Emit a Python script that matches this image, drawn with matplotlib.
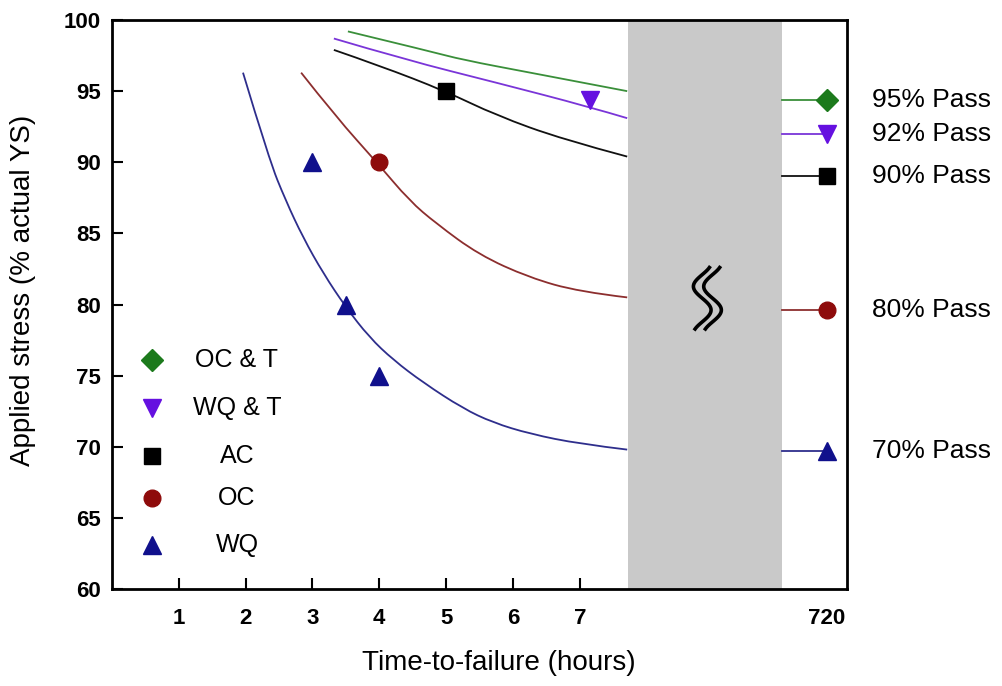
import numpy as np
import matplotlib.pyplot as plt
from matplotlib.path import Path
from matplotlib.patches import PathPatch

plt.rcParams['font.family'] = ['Liberation Sans', 'DejaVu Sans']

# heat treatments, legend order
series = ["OC & T", "WQ & T", "AC", "OC", "WQ"]
markers = ["D", "v", "s", "o", "^"]
marker_sizes = [11, 13, 11, 12, 13]
line_colors = ["#3a8f3a", "#7a35d8", "#111111", "#8c2e2e", "#2e2e8c"]
marker_colors = ["#1c7a1c", "#6510e0", "#000000", "#8e0b0b", "#10108c"]

# failed specimens: time-to-failure (h) vs applied stress (% actual YS)
fail_hours = [[], [7.15], [5.0], [4.0], [3.0, 3.5, 4.0]]
fail_stress = [[], [94.4], [95.0], [90.0], [90.0, 80.0, 75.0]]

# stress levels that ran out the full 720 h
pass_stress = [94.4, 92.0, 89.0, 79.6, 69.7]
pass_labels = ["95% Pass", "92% Pass", "90% Pass", "80% Pass", "70% Pass"]

# trend curves through the short-time results
curve_hours = [
    [3.53, 4.76, 5.25, 6.26, 7.71],
    [3.32, 4.40, 5.75, 7.14, 7.71],
    [3.32, 4.00, 4.99, 5.75, 6.75, 7.71],
    [2.83, 3.35, 3.98, 4.45, 4.85, 5.49, 6.24, 6.99, 7.71],
    [1.96, 2.35, 2.60, 2.86, 3.16, 3.50, 3.85, 4.21, 4.66, 5.25, 5.70, 6.26, 7.00, 7.71],
]
curve_stress = [
    [99.2, 97.8, 97.2, 96.3, 95.0],
    [98.7, 97.2, 95.6, 93.9, 93.1],
    [97.9, 96.8, 95.0, 93.3, 91.6, 90.4],
    [96.3, 93.2, 89.9, 87.3, 85.7, 83.5, 81.9, 80.9, 80.5],
    [96.3, 90.2, 87.3, 84.7, 82.2, 79.8, 77.7, 76.1, 74.5, 72.7, 71.7, 70.9, 70.2, 69.8],
]

x_ticks = [1, 2, 3, 4, 5, 6, 7]
X_720 = 10.7              # axis position used for the 720 h run-outs
BREAK_LO, BREAK_HI = 7.72, 10.03


def smooth_curve(ax, xs, ys, **kw):
    # quadratic bezier through the midpoints, so the trend line has no corners
    pts = list(zip(xs, ys))
    verts, codes = [pts[0]], [Path.MOVETO]
    for k in range(1, len(pts) - 1):
        nxt = pts[k + 1] if k == len(pts) - 2 else (
            (pts[k][0] + pts[k + 1][0]) / 2, (pts[k][1] + pts[k + 1][1]) / 2)
        verts += [pts[k], nxt]
        codes += [Path.CURVE3, Path.CURVE3]
    if len(pts) == 2:
        verts.append(pts[1])
        codes.append(Path.LINETO)
    ax.add_patch(PathPatch(Path(verts, codes), fill=False, **kw))


fig = plt.figure(figsize=(10.03, 6.86), dpi=100)
ax = fig.add_axes([0.1117, 0.1414, 0.7328, 0.8294])

ax.axvspan(BREAK_LO, BREAK_HI, color="#c9c9c9", lw=0, zorder=1)

for i in range(len(series)):
    smooth_curve(ax, curve_hours[i], curve_stress[i], edgecolor=line_colors[i], lw=1.3, zorder=2)
    ax.plot([BREAK_HI, X_720], [pass_stress[i], pass_stress[i]],
            color=line_colors[i], lw=1.3, zorder=2)
    ax.plot(fail_hours[i] + [X_720], fail_stress[i] + [pass_stress[i]],
            ls="none", marker=markers[i], ms=marker_sizes[i],
            color=marker_colors[i], mec=marker_colors[i], zorder=3)
    ax.text(1.034, pass_stress[i], pass_labels[i], transform=ax.get_yaxis_transform(),
            ha="left", va="center", fontsize=19, clip_on=False)

# axis break squiggle
t = np.linspace(-0.15, 1.15, 80)
for dx in (-0.007, 0.007):
    ax.plot(0.81 + dx - 0.012 * np.sin(2 * np.pi * t), 0.511 + 0.054 * (1 - 2 * t) / 1.3,
            transform=ax.transAxes, color="black", lw=2.6, zorder=4)

# legend drawn by hand: marker column plus centred names
leg_y = [0.402, 0.318, 0.234, 0.160, 0.077]
for i in range(len(series)):
    ax.plot([0.054], [leg_y[i]], transform=ax.transAxes, marker=markers[i],
            ms=marker_sizes[i], color=marker_colors[i], ls="none", zorder=4)
    ax.text(0.170, leg_y[i], series[i], transform=ax.transAxes,
            ha="center", va="center", fontsize=18)

ax.set_xlim(0, 11)
ax.set_ylim(60, 100)
ax.set_xticks(x_ticks + [X_720], [str(v) for v in x_ticks] + ["720"])
ax.set_yticks(np.arange(60, 101, 5))
ax.xaxis.get_major_ticks()[-1].tick1line.set_visible(False)
ax.tick_params(direction="in", length=8, width=1.5, labelsize=16)
ax.tick_params(axis="x", pad=14)
ax.tick_params(axis="y", pad=8)
for lbl in ax.get_xticklabels() + ax.get_yticklabels():
    lbl.set_fontweight("bold")
for sp in ax.spines.values():
    sp.set_linewidth(2)

ax.set_xlabel("Time-to-failure (hours)", fontsize=20)
ax.set_ylabel("Applied stress (% actual YS)", fontsize=20)
ax.xaxis.set_label_coords(0.5265, -0.107)
ax.yaxis.set_label_coords(-0.103, 0.525)

fig.savefig("out.png", dpi=100)
